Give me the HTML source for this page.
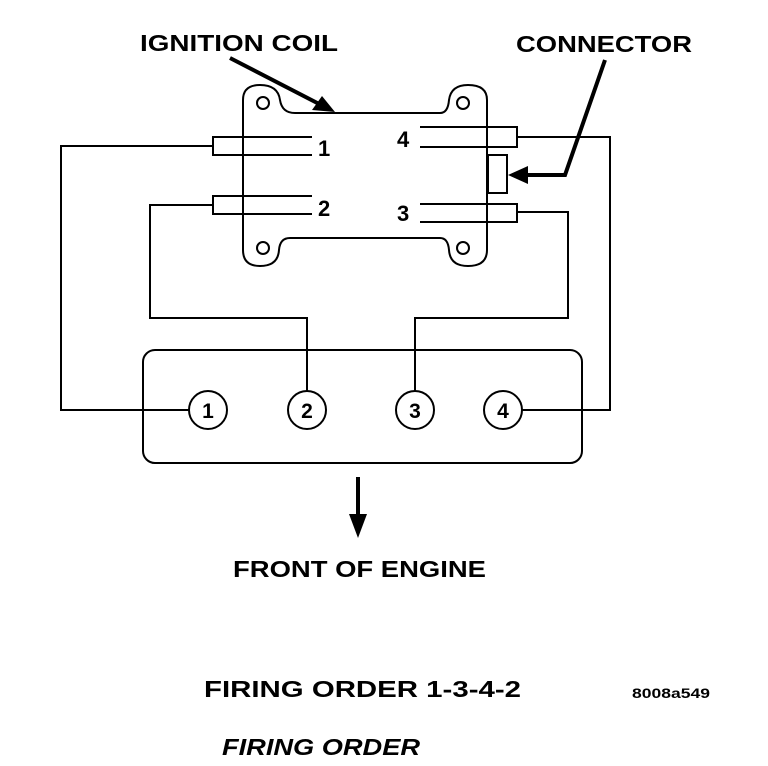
<!DOCTYPE html>
<html><head><style>
html,body{margin:0;padding:0;background:#fff;}
svg{display:block;}
text{font-family:"Liberation Sans",sans-serif;font-weight:bold;fill:#000;}
</style></head><body>
<svg width="768" height="766" viewBox="0 0 768 766">
<g fill="none" stroke="#000" stroke-width="2">
<path d="M243,100 Q243,85 260,85 Q278,85 280,100 Q282,113 295,113 L440,113 Q448,113 449,100 Q451,85 468,85 Q487,85 487,100 L487,250 Q487,266 468,266 Q450,266 449,250 Q448,238 440,238 L290,238 Q280,238 279,250 Q278,266 260,266 Q243,266 243,250 Z"/>
<circle cx="263" cy="103" r="6"/><circle cx="463" cy="103" r="6"/>
<circle cx="263" cy="248" r="6"/><circle cx="463" cy="248" r="6"/>
<path d="M312,137 L213,137 L213,155 L312,155"/>
<path d="M312,196 L213,196 L213,214 L312,214"/>
<path d="M420,127 L517,127 L517,147 L420,147"/>
<path d="M420,204 L517,204 L517,222 L420,222"/>
<rect x="488" y="155" width="19" height="38"/>
<path d="M213,146 L61,146 L61,410 L189,410"/>
<path d="M213,205 L150,205 L150,318 L307,318 L307,391"/>
<path d="M517,137 L610,137 L610,410 L522,410"/>
<path d="M517,212 L568,212 L568,318 L415,318 L415,391"/>
<rect x="143" y="350" width="439" height="113" rx="12"/>
<circle cx="208" cy="410" r="19"/><circle cx="307" cy="410" r="19"/>
<circle cx="415" cy="410" r="19"/><circle cx="503" cy="410" r="19"/>
</g>
<g stroke="#000" stroke-width="4" fill="none">
<line x1="230" y1="58" x2="325" y2="107"/>
<path d="M605,60 L565,175 L520,175"/>
<line x1="358" y1="477" x2="358" y2="522"/>
</g>
<polygon points="335,112 312,110 322,96" fill="#000"/>
<polygon points="508,175 528,166 528,184" fill="#000"/>
<polygon points="358,538 349,514 367,514" fill="#000"/>
<text x="140" y="51" font-size="23" textLength="198" lengthAdjust="spacingAndGlyphs">IGNITION COIL</text>
<text x="516" y="52" font-size="23" textLength="176" lengthAdjust="spacingAndGlyphs">CONNECTOR</text>
<text x="318" y="156" font-size="22">1</text>
<text x="318" y="216" font-size="22">2</text>
<text x="397" y="147" font-size="22">4</text>
<text x="397" y="221" font-size="22">3</text>
<g font-size="21" text-anchor="middle">
<text x="208" y="418">1</text><text x="307" y="418">2</text>
<text x="415" y="418">3</text><text x="503" y="418">4</text>
</g>
<text x="233" y="577" font-size="23" textLength="253" lengthAdjust="spacingAndGlyphs">FRONT OF ENGINE</text>
<text x="204" y="697" font-size="23" textLength="317" lengthAdjust="spacingAndGlyphs">FIRING ORDER 1-3-4-2</text>
<text x="632" y="698" font-size="14" textLength="78" lengthAdjust="spacingAndGlyphs">8008a549</text>
<text x="222" y="755" font-size="23" font-style="italic" textLength="198" lengthAdjust="spacingAndGlyphs">FIRING ORDER</text>
</svg>
</body></html>
